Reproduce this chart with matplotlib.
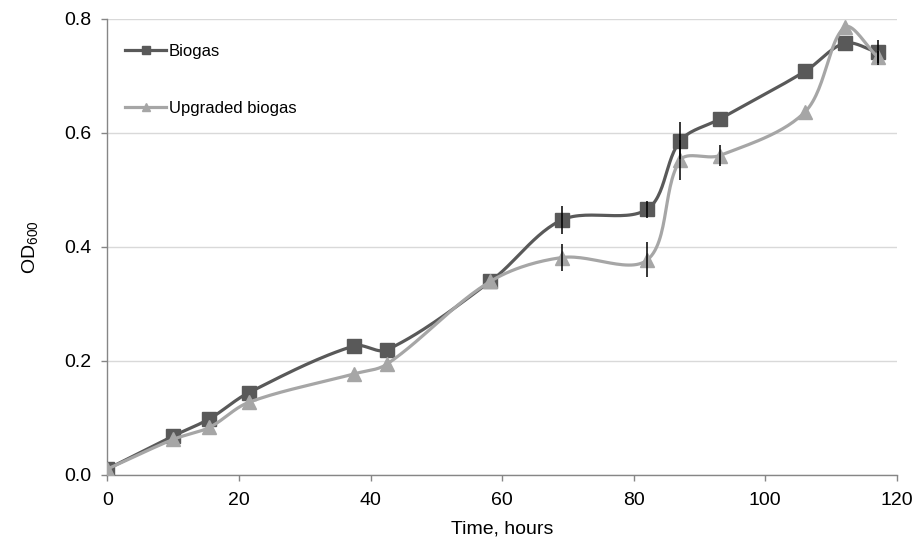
import numpy as np
import matplotlib
matplotlib.use("Agg")
import matplotlib.pyplot as plt
from matplotlib.lines import Line2D

plt.rcParams['font.family'] = ['Liberation Sans', 'DejaVu Sans']

time_h = [0, 10, 15.5, 21.5, 37.5, 42.5, 58.2, 69.1, 82.1, 87.1, 93.1, 106.1, 112.1, 117.1]
biogas = [0.010, 0.068, 0.098, 0.144, 0.226, 0.219, 0.339, 0.447, 0.466, 0.586, 0.624, 0.708, 0.757, 0.741]
biogas_err = [0, 0, 0, 0, 0, 0, 0, 0.024, 0.015, 0.033, 0, 0, 0, 0.022]
upgraded = [0.010, 0.062, 0.083, 0.127, 0.177, 0.194, 0.339, 0.381, 0.377, 0.552, 0.560, 0.637, 0.785, 0.733]
upgraded_err = [0, 0, 0, 0, 0, 0, 0, 0.023, 0.031, 0.035, 0.018, 0, 0, 0.010]

x_ticks = [0, 20, 40, 60, 80, 100, 120]
y_ticks = [0.0, 0.2, 0.4, 0.6, 0.8]
y_tick_labels = ['0.0', '0.2', '0.4', '0.6', '0.8']

DARK = '#595959'
LIGHT = '#A6A6A6'


def smooth(xs, ys, sx=790 / 120, sy=456 / 0.8, n=30):
    """Bezier smoothing through the data points (Excel-like), distance-weighted tangents."""
    P = np.column_stack([np.array(xs, float) * sx, np.array(ys, float) * sy])
    P = np.vstack([P[0], P, P[-1]])
    out = []
    t = np.linspace(0, 1, n)[:, None]
    for i in range(1, len(P) - 2):
        p0, p1, p2, p3 = P[i - 1], P[i], P[i + 1], P[i + 2]
        d01 = np.linalg.norm(p1 - p0)
        d12 = np.linalg.norm(p2 - p1)
        d23 = np.linalg.norm(p3 - p2)
        f1 = d12 / (d01 + d12) if d01 + d12 > 0 else 0
        f2 = d12 / (d12 + d23) if d12 + d23 > 0 else 0
        c1 = p1 + (p2 - p0) * f1 / 3.0
        c2 = p2 - (p3 - p1) * f2 / 3.0
        seg = ((1 - t) ** 3) * p1 + 3 * ((1 - t) ** 2) * t * c1 + 3 * (1 - t) * t ** 2 * c2 + t ** 3 * p2
        out.append(seg if i == 1 else seg[1:])
    s = np.vstack(out)
    return s[:, 0] / sx, s[:, 1] / sy


fig = plt.figure(figsize=(9.2, 5.47), dpi=100)
ax = fig.add_axes([0.1168, 0.1322, 0.8579, 0.8336])

for xs, ys, err, col, mk, ms, z in [
    (time_h, biogas, biogas_err, DARK, 's', 10, 3),
    (time_h, upgraded, upgraded_err, LIGHT, '^', 10, 4),
]:
    sx_, sy_ = smooth(xs, ys)
    ax.plot(sx_, sy_, color=col, lw=2.3, zorder=z, solid_capstyle='round')
    ax.plot(xs, ys, linestyle='none', marker=mk, ms=ms, color=col, mec=col, zorder=z)
    e = np.array(err)
    m = e > 0
    ax.errorbar(np.array(xs)[m], np.array(ys)[m], yerr=e[m], fmt='none',
                ecolor='black', elinewidth=1.1, capsize=0, zorder=6)

ax.set_xlim(0, 120)
ax.set_ylim(0, 0.8)
ax.set_xticks(x_ticks)
ax.set_yticks(y_ticks)
ax.set_yticklabels(y_tick_labels)
ax.grid(axis='y', color='#D9D9D9', lw=1.0)
ax.set_axisbelow(True)
for s in ['top', 'right']:
    ax.spines[s].set_visible(False)
for s in ['left', 'bottom']:
    ax.spines[s].set_color('#868686')
    ax.spines[s].set_linewidth(1.0)
ax.tick_params(axis='both', direction='out', length=4.5, width=1.0, color='#868686',
               labelsize=14, labelcolor='black')
ax.tick_params(axis='y', pad=7)
ax.tick_params(axis='x', pad=8)
ax.set_xlabel('Time, hours', fontsize=14, labelpad=8)
ax.set_ylabel(r'OD$_\mathregular{600}$', fontsize=14, labelpad=17)

handles = [Line2D([], [], color=DARK, lw=2.3, marker='s', ms=5.5),
           Line2D([], [], color=LIGHT, lw=2.3, marker='^', ms=5.5)]
ax.legend(handles, ['Biogas', 'Upgraded biogas'], loc='upper left',
          bbox_to_anchor=(0.022, 0.945), frameon=False, fontsize=12,
          handlelength=2.5, handletextpad=0.15, labelspacing=2.55,
          borderpad=0, borderaxespad=0)

fig.savefig('out.png', dpi=100)
